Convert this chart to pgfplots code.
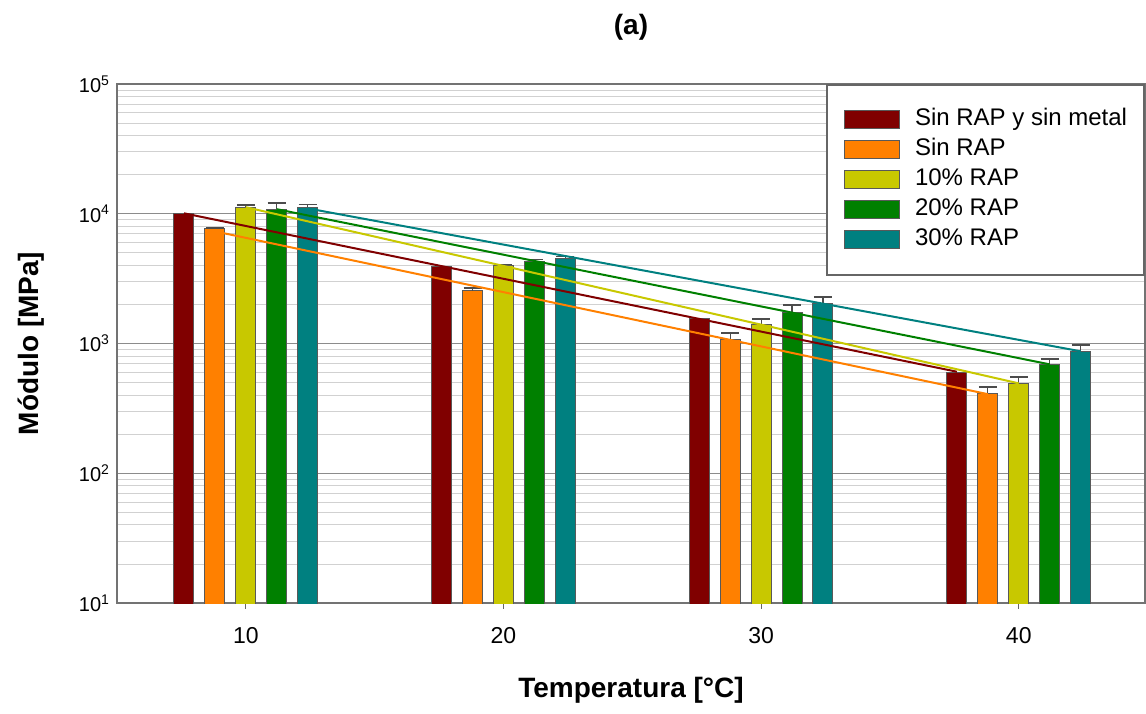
\documentclass[border=0pt]{standalone}
\usepackage{fontspec}
\setmainfont{Liberation Sans}
\usepackage{pgfplots}
\pgfplotsset{compat=1.18}

\definecolor{cDR}{HTML}{800000}
\definecolor{cOR}{HTML}{FF8000}
\definecolor{cYE}{HTML}{C8C800}
\definecolor{cGR}{HTML}{008000}
\definecolor{cTE}{HTML}{008080}

\pgfplotsset{
  mybar/.style={ybar, bar width=10pt, bar shift=0pt, draw=black!65, line width=0.5pt,
    legend image code/.code={\draw[##1] (0pt,-4.5pt) rectangle (27.5pt,4.5pt);}},
  myerr/.style={error bars/.cd, y dir=plus, y explicit,
    error bar style={black!70, line width=0.6pt},
    error mark options={rotate=90, black!70, line width=0.6pt, mark size=4.5pt}},
  trend/.style={line width=1pt, forget plot},
}

\begin{document}
\begin{tikzpicture}
\begin{axis}[
  at={(0,0)}, anchor=south west,
  scale only axis, width=514pt, height=259.5pt,
  xmin=5, xmax=44.9,
  ymode=log, log basis y=10, ymin=10, ymax=100000,
  xtick={10,20,30,40}, xticklabels={10,20,30,40},
  ytick={10,100,1000,10000,100000},
  yticklabels={10\textsuperscript{1},10\textsuperscript{2},10\textsuperscript{3},10\textsuperscript{4},10\textsuperscript{5}},
  minor ytick={20,30,40,50,60,70,80,90,200,300,400,500,600,700,800,900,2000,3000,4000,5000,6000,7000,8000,9000,20000,30000,40000,50000,60000,70000,80000,90000},
  tick pos=left, xtick align=outside, major tick length=3pt, minor tick length=0pt,
  ytick style={draw=none},
  xtick style={black!60, line width=0.6pt},
  xticklabel style={font=\fontsize{11.5}{13}\selectfont, yshift=-5.5pt},
  yticklabel style={font=\fontsize{10}{12}\selectfont},
  ymajorgrids, yminorgrids,
  major grid style={black!45, line width=0.5pt},
  minor grid style={black!18, line width=0.4pt},
  axis line style={black!55, line width=0.8pt},
  title={(a)},
  title style={at={(0.5,1.0867)}, anchor=center, font=\bfseries\fontsize{14}{16}\selectfont},
  xlabel={Temperatura [°C]},
  ylabel={Módulo [MPa]},
  xlabel style={at={(axis description cs:0.5,-0.1676)}, anchor=center, font=\bfseries\fontsize{14}{16}\selectfont},
  ylabel style={at={(axis description cs:-0.0837,0.5)}, anchor=center, font=\bfseries\fontsize{14}{16}\selectfont},
  legend cell align=left,
  legend style={at={(1,1)}, anchor=north east, draw=black!60, line width=0.9pt,
    font=\fontsize{12}{14}\selectfont, inner xsep=8.5pt, inner ysep=10pt,
    row sep=0pt, column sep=7.5pt,
    nodes={inner xsep=0pt, inner ysep=1.5pt, text height=9pt, text depth=3pt}},
]
% bars
\addplot[mybar, fill=cDR] coordinates {(7.6,10100) (17.6,3890) (27.6,1570) (37.6,603)};
\addlegendentry{Sin RAP y sin metal}
\addplot[mybar, fill=cOR, myerr] coordinates {(8.8,7760) +- (0,0) (18.8,2540) +- (0,140) (28.8,1083) +- (0,120) (38.8,415) +- (0,47)};
\addlegendentry{Sin RAP}
\addplot[mybar, fill=cYE, myerr] coordinates {(10,11270) +- (0,400) (20,3960) +- (0,100) (30,1390) +- (0,155) (40,496) +- (0,56)};
\addlegendentry{10\% RAP}
\addplot[mybar, fill=cGR, myerr] coordinates {(11.2,10880) +- (0,1220) (21.2,4320) +- (0,150) (31.2,1720) +- (0,260) (41.2,695) +- (0,65)};
\addlegendentry{20\% RAP}
\addplot[mybar, fill=cTE, myerr] coordinates {(12.4,11200) +- (0,600) (22.4,4560) +- (0,150) (32.4,2050) +- (0,230) (42.4,875) +- (0,100)};
\addlegendentry{30\% RAP}
% exponential trend lines
\addplot[trend, cDR] coordinates {(7.6,10080) (37.6,606)};
\addplot[trend, cOR] coordinates {(8.8,7320) (38.8,407)};
\addplot[trend, cYE] coordinates {(10,11230) (40,493)};
\addplot[trend, cGR] coordinates {(11.2,10840) (41.2,691)};
\addplot[trend, cTE] coordinates {(12.4,11000) (42.4,871)};
\end{axis}
\pgfresetboundingbox
\path (-58.5pt,-55pt) rectangle (514.5pt,301.5pt);
\end{tikzpicture}
\end{document}
